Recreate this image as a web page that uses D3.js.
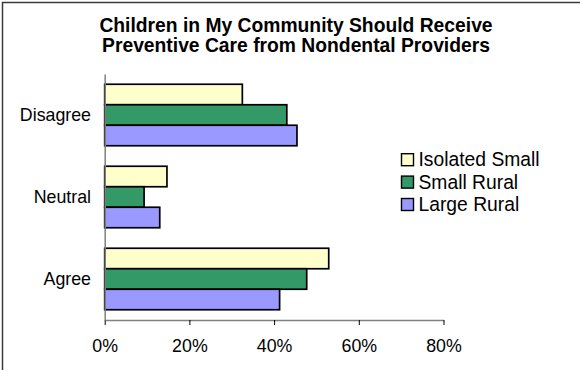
<!DOCTYPE html>
<html>
<head>
<meta charset="utf-8">
<script src="https://cdn.jsdelivr.net/npm/d3@7/dist/d3.min.js"></script>
<style>
  html, body { margin: 0; padding: 0; background: #fff; }
  svg { display: block; font-family: "Liberation Sans", Arial, sans-serif; }
</style>
</head>
<body>
<svg id="chart" width="580" height="370"></svg>
<script>
// Survey responses, percent of respondents per community type
const categories = ["Disagree", "Neutral", "Agree"];
const seriesNames = ["Isolated Small", "Small Rural", "Large Rural"];
const isolatedSmall = [32.5, 14.7, 52.9];
const smallRural = [43.0, 9.3, 47.7];
const largeRural = [45.4, 13.0, 41.3];
const seriesColors = ["#FFFFCC", "#339966", "#9999FF"];
const tickValues = [0, 20, 40, 60, 80];
const titleLines = ["Children in My Community Should Receive", "Preventive Care from Nondental Providers"];

const seriesValues = [isolatedSmall, smallRural, largeRural];

const svg = d3.select("#chart");

// Outer frame
svg.append("rect")
  .attr("x", 2.5).attr("y", 2.5)
  .attr("width", 600).attr("height", 400)
  .attr("fill", "none")
  .attr("stroke", "#3a3a3a")
  .attr("stroke-width", 1.5);

// Title
svg.append("g").selectAll("text")
  .data(titleLines)
  .join("text")
  .attr("x", 296)
  .attr("y", (d, i) => 31.7 + i * 20)
  .attr("text-anchor", "middle")
  .attr("font-weight", "bold")
  .attr("font-size", 19.3)
  .attr("fill", "#000")
  .text(d => d);

const plot = { left: 104.7, right: 443.5, top: 74, bottom: 320 };

const x = d3.scaleLinear().domain([0, 80]).range([plot.left, plot.right]);
const y = d3.scaleBand().domain(categories)
  .range([plot.top, plot.bottom])
  .paddingInner(0.25).paddingOuter(0.125);
const ySub = d3.scaleBand().domain(seriesNames).range([0, y.bandwidth()]);

// Bars
const rows = categories.map((c, ci) => ({
  category: c,
  values: seriesNames.map((s, si) => ({ series: s, value: seriesValues[si][ci], color: seriesColors[si] }))
}));

svg.append("g").selectAll("g")
  .data(rows)
  .join("g")
  .attr("transform", d => `translate(0,${y(d.category)})`)
  .selectAll("rect")
  .data(d => d.values)
  .join("rect")
  .attr("x", x(0))
  .attr("y", d => ySub(d.series))
  .attr("width", d => x(d.value) - x(0))
  .attr("height", ySub.bandwidth())
  .attr("fill", d => d.color)
  .attr("stroke", "#000")
  .attr("stroke-width", 1.7);

// X axis
const xAxis = svg.append("g")
  .attr("transform", `translate(0,${plot.bottom})`)
  .call(d3.axisBottom(x)
    .tickValues(tickValues)
    .tickSize(5)
    .tickSizeOuter(0)
    .tickPadding(14)
    .tickFormat(d => d + "%"));
xAxis.select(".domain").attr("stroke", "#808080").attr("stroke-width", 1.5);
xAxis.selectAll(".tick line").attr("stroke", "#000");
xAxis.selectAll(".tick text")
  .attr("font-size", 17.8)
  .attr("font-family", "'Liberation Sans', Arial, sans-serif")
  .attr("fill", "#000");

// Y axis
const yAxis = svg.append("g")
  .attr("transform", `translate(${plot.left},0)`)
  .call(d3.axisLeft(y).tickSize(0).tickSizeOuter(0).tickPadding(13.7));
yAxis.select(".domain").attr("stroke", "#808080").attr("stroke-width", 1.5);
yAxis.selectAll(".tick text")
  .attr("font-size", 17.8)
  .attr("font-family", "'Liberation Sans', Arial, sans-serif")
  .attr("fill", "#000");

// Legend
const legend = svg.append("g").selectAll("g")
  .data(seriesNames)
  .join("g")
  .attr("transform", (d, i) => `translate(401,${159.7 + i * 22.4})`);
legend.append("rect")
  .attr("x", 0.5).attr("y", -6)
  .attr("width", 12).attr("height", 12)
  .attr("fill", (d, i) => seriesColors[i])
  .attr("stroke", "#000")
  .attr("stroke-width", 1.4);
legend.append("text")
  .attr("x", 17.5)
  .attr("y", 6.5)
  .attr("font-size", 19.3)
  .attr("fill", "#000")
  .text(d => d);
</script>
</body>
</html>
